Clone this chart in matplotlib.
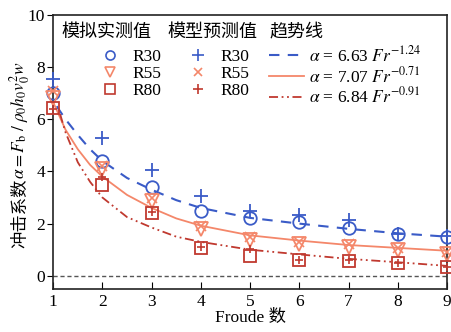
import matplotlib
matplotlib.use("Agg")
from matplotlib import pyplot as plt
from matplotlib.lines import Line2D

plt.rcParams['font.family'] = ['Liberation Serif', 'Noto Sans CJK SC']
plt.rcParams['mathtext.fontset'] = 'stix'
plt.rcParams['axes.unicode_minus'] = False

# Froude 数
fr = [1, 2, 3, 4, 5, 6, 7, 8, 9]

# 模拟实测值
sim_r30 = [7.0, 4.4, 3.4, 2.5, 2.2, 2.05, 1.82, 1.6, 1.5]
sim_r55 = [6.8, 4.1, 2.85, 1.8, 1.37, 1.2, 1.12, 1.0, 0.85]
sim_r80 = [6.42, 3.48, 2.42, 1.07, 0.74, 0.6, 0.56, 0.48, 0.32]

# 模型预测值
pred_r30 = [7.55, 5.3, 4.05, 3.05, 2.5, 2.32, 2.12, 1.62, 1.52]
pred_r55 = [7.1, 4.2, 3.0, 1.9, 1.5, 1.3, 1.2, 1.05, 0.9]
pred_r80 = [6.4, 3.78, 2.45, 1.1, 1.02, 0.62, 0.6, 0.5, 0.35]

# 趋势线
fit_x_r30 = [1.07, 1.25, 1.5, 1.75, 2, 2.5, 3, 3.5, 4, 5, 6, 7, 8, 9]
fit_r30 = [6.5, 6.0, 5.4, 4.85, 4.4, 3.75, 3.3, 2.9, 2.6, 2.22, 2.0, 1.8, 1.63, 1.5]
fit_x_r55 = [1.0, 1.25, 1.5, 1.75, 2, 2.5, 3, 3.5, 4, 5, 6, 7, 8, 9]
fit_r55 = [6.65, 5.6, 4.85, 4.25, 3.8, 3.1, 2.6, 2.2, 1.92, 1.55, 1.35, 1.18, 1.07, 0.96]
fit_x_r80 = [1.14, 1.25, 1.5, 1.75, 2, 2.5, 3, 3.5, 4, 5, 6, 7, 8, 9]
fit_r80 = [6.2, 5.5, 4.35, 3.6, 3.0, 2.25, 1.85, 1.5, 1.3, 1.0, 0.82, 0.65, 0.52, 0.38]

fit_labels = [r'$\alpha$ = 6.63 $Fr^{-1.24}$',
              r'$\alpha$ = 7.07 $Fr^{-0.71}$',
              r'$\alpha$ = 6.84 $Fr^{-0.91}$']
case_labels = ['R30', 'R55', 'R80']

BLUE = '#3a5bc7'
ORANGE = '#f4876a'
RED = '#c0392f'
DASH = (0, (5, 4))
DASH_DOT_DOT = (0, (5, 2, 1, 2, 1, 2))

fig = plt.figure(figsize=(4.51, 3.32), dpi=100)
ax = fig.add_axes([0.118, 0.130, 0.873, 0.825])

ax.axhline(0, color='#555555', ls=(0, (3, 2)), lw=1.0, zorder=1)

ax.plot(fit_x_r30, fit_r30, color=BLUE, ls=DASH, lw=1.5, zorder=2)
ax.plot(fit_x_r55, fit_r55, color=ORANGE, ls='-', lw=1.3, zorder=2)
ax.plot(fit_x_r80, fit_r80, color=RED, ls=DASH_DOT_DOT, lw=1.3, zorder=2)

ms = 9
ax.plot(fr, sim_r30, 'o', ms=ms, mfc='none', mec=BLUE, mew=1.3, clip_on=False, zorder=3)
ax.plot(fr, sim_r55, 'v', ms=ms + 1, mfc='none', mec=ORANGE, mew=1.3, clip_on=False, zorder=3)
ax.plot(fr, sim_r80, 's', ms=ms - 0.5, mfc='none', mec=RED, mew=1.3, clip_on=False, zorder=3)
ax.plot(fr, pred_r30, '+', ms=ms + 1, mec=BLUE, mew=1.3, clip_on=False, zorder=4)
ax.plot(fr, pred_r55, 'x', ms=ms - 2, mec=ORANGE, mew=1.2, clip_on=False, zorder=4)
ax.plot(fr, pred_r80, '+', ms=ms - 3, mec=RED, mew=1.2, clip_on=False, zorder=4)

ax.set_xlim(1, 9)
ax.set_ylim(-0.5, 10)
ax.set_xticks(fr)
ax.set_yticks([0, 2, 4, 6, 8, 10])
ax.tick_params(axis='x', direction='in', length=5, labelsize=12.5, pad=4, top=False)
ax.tick_params(axis='y', direction='out', length=4, labelsize=12.5, pad=2, right=False)
for s in ax.spines.values():
    s.set_linewidth(1.2)
    s.set_color('#222222')

ax.set_xlabel('Froude 数', fontsize=12.5, labelpad=0)

# y label: Chinese part and formula drawn as two rotated pieces on one baseline
fig.text(25 / 451, 1 - 248 / 332, '冲击系数', fontsize=12.5, rotation=90,
         rotation_mode='anchor', ha='left', va='baseline')
fig.text(25 / 451, 1 - 179 / 332, r'$\alpha = F_\mathrm{b}\ /\ \rho_0 h_0 v_0^2 w$',
         fontsize=12.5, rotation=90, rotation_mode='anchor', ha='left', va='baseline')

# legend: three columns with headers
handles = []
for c, m in zip([BLUE, ORANGE, RED], ['o', 'v', 's']):
    handles.append(Line2D([], [], ls='none', marker=m, ms=6.5, mfc='none', mec=c, mew=1.2))
for c, m, s in zip([BLUE, ORANGE, RED], ['+', 'x', '+'], [8, 6, 7]):
    handles.append(Line2D([], [], ls='none', marker=m, ms=s, mec=c, mew=1.2))
handles.append(Line2D([], [], color=BLUE, ls=DASH, lw=1.5))
handles.append(Line2D([], [], color=ORANGE, ls='-', lw=1.3))
handles.append(Line2D([], [], color=RED, ls=DASH_DOT_DOT, lw=1.3))
labels = case_labels + case_labels + fit_labels

ax.legend(handles, labels, ncol=3, loc='upper left', bbox_to_anchor=(0.101, 0.89),
          frameon=False, fontsize=12.5, borderpad=0, borderaxespad=0,
          handlelength=2.0, handletextpad=0.3, columnspacing=1.1,
          labelspacing=0.05)

for x, t in zip([0.022, 0.289, 0.55], ['模拟实测值', '模型预测值', '趋势线']):
    ax.text(x, 0.935, t, transform=ax.transAxes, fontsize=13, va='center', ha='left')

fig.savefig('out.png', dpi=100)
